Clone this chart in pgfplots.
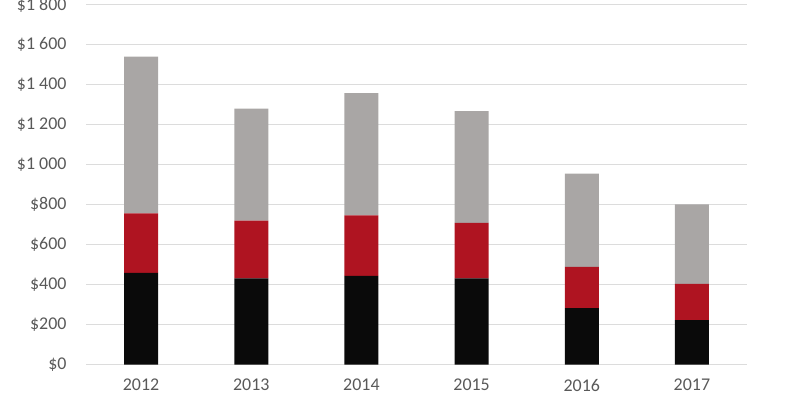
\documentclass[border=0pt]{standalone}
\usepackage{pgfplots}
\pgfplotsset{compat=1.18}
\usepackage{fontspec}
\setmainfont{Carlito}
\definecolor{barblack}{HTML}{0A0A0A}
\definecolor{barred}{HTML}{AF1421}
\definecolor{bargray}{HTML}{A9A6A5}
\definecolor{gridc}{HTML}{DCDCDC}
\definecolor{txt}{HTML}{595959}
\begin{document}
\begin{tikzpicture}
\begin{axis}[
  scale only axis,
  width=661bp, height=359.5bp,
  ybar stacked,
  bar width=34bp,
  xmin=-0.5, xmax=5.5,
  ymin=0, ymax=1800,
  xtick={0,1,2,3,4,5},
  xticklabels={2012,2013,2014,2015,2016,2017},
  ytick={0,200,...,1800},
  yticklabels={\$0,\$200,\$400,\$600,\$800,\$1 000,\$1 200,\$1 400,\$1 600,\$1 800},
  axis line style={draw=none},
  major tick length=0pt,
  ymajorgrids,
  grid style={gridc, line width=1pt},
  tick label style={font=\fontsize{18}{21}\selectfont, text=txt},
  yticklabel style={xshift=-16bp},
  xticklabel style={yshift=-11bp},
  clip=false,
]
\addplot[fill=barblack, draw=none] coordinates {(0,459) (1,431) (2,444) (3,431) (4,282) (5,222)};
\addplot[fill=barred, draw=none] coordinates {(0,298) (1,290) (2,303) (3,278) (4,207) (5,182)};
\addplot[fill=bargray, draw=none] coordinates {(0,785) (1,560) (2,612) (3,560) (4,467) (5,398)};
\coordinate (bl) at (rel axis cs:0,0);
\coordinate (tr) at (rel axis cs:1,1);
\end{axis}
\pgfresetboundingbox
\path ([xshift=-86bp,yshift=-34.5bp]bl) rectangle ([xshift=40bp,yshift=5bp]tr);
\end{tikzpicture}
\end{document}
